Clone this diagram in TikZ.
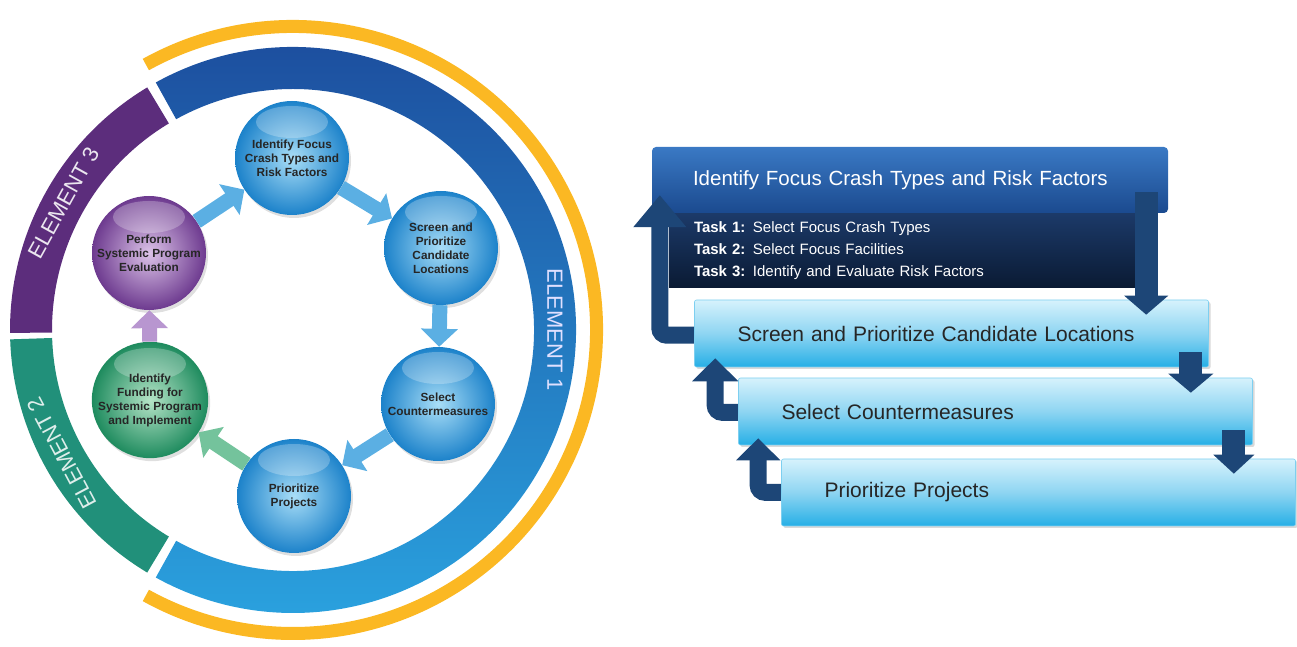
\documentclass[tikz,border=0pt]{standalone}
\usepackage{fontspec}
\setmainfont{Liberation Sans}
\usetikzlibrary{arrows.meta,calc,shadows}

\definecolor{ringtop}{HTML}{1C4A9B}
\definecolor{ringbot}{HTML}{2AA2DF}
\definecolor{ringpurple}{HTML}{5C2D7C}
\definecolor{ringgreen}{HTML}{21907A}
\definecolor{ringgold}{HTML}{FBB823}
\definecolor{ballblue}{HTML}{1C82CA}
\definecolor{balllight}{HTML}{A9DEF7}
\definecolor{ballpurple}{HTML}{6D3A8F}
\definecolor{balllilac}{HTML}{DCC3E8}
\definecolor{ballgreen}{HTML}{1E8B5E}
\definecolor{ballmint}{HTML}{B5E4C7}
\definecolor{cycblue}{HTML}{5BAFE3}
\definecolor{cycgreen}{HTML}{74C39C}
\definecolor{cycpurple}{HTML}{B896D0}
\definecolor{headtop}{HTML}{3A79C4}
\definecolor{headbot}{HTML}{1B4A8F}
\definecolor{tasktop}{HTML}{1C3A69}
\definecolor{taskbot}{HTML}{0A1A33}
\definecolor{steptop}{HTML}{D6F2FC}
\definecolor{stepmid}{HTML}{8ED5F2}
\definecolor{stepbot}{HTML}{26AFE6}
\definecolor{arrownavy}{HTML}{1D4677}

\begin{document}
\begin{tikzpicture}[x=1pt, y=1pt,
  ball/.style={circle, minimum size=114pt, inner sep=0pt, align=center,
    font=\fontsize{11.8}{14}\selectfont\bfseries, text=black!85,
    drop shadow={opacity=0.25, shadow xshift=2pt, shadow yshift=-3pt},
    path picture={\fill[white, opacity=0.25] ([yshift=36pt]path picture bounding box.center) ellipse [x radius=36pt, y radius=16pt];}},
  blueball/.style={ball, inner color=balllight, outer color=ballblue},
  purpleball/.style={ball, inner color=balllilac, outer color=ballpurple},
  greenball/.style={ball, inner color=ballmint, outer color=ballgreen},
  cycarrow/.style={line width=15pt, -{Triangle[width=36pt, length=18pt]}},
  elemtext/.style={font=\fontsize{22}{22}\selectfont},
  headbox/.style={rectangle, rounded corners=4pt, text width=434pt, inner xsep=41pt, minimum height=66pt, align=left,
    top color=headtop, bottom color=headbot, text=white, font=\fontsize{20.5}{24}\selectfont},
  taskbox/.style={rectangle, text width=416pt, inner xsep=25pt, minimum height=75pt, align=left,
    top color=tasktop, bottom color=taskbot, text=white, font=\fontsize{15}{22}\selectfont},
  stepbox/.style={rectangle, rounded corners=2pt, text width=428pt, inner xsep=43pt, minimum height=67pt, align=left,
    top color=steptop, bottom color=stepbot, middle color=stepmid, draw=stepbot!60, line width=0.6pt,
    font=\fontsize{21}{24}\selectfont, text=black!85,
    drop shadow={opacity=0.3, shadow xshift=2pt, shadow yshift=-2pt}},
  uparrow/.style={draw=arrownavy, line width=17pt, rounded corners=7pt},
  downarrow/.style={draw=arrownavy, line width=23pt},
]
\useasboundingbox (0,0) rectangle (1297,647);
\coordinate (hub) at (293,317);

% outer rings
\draw [ringgold, line width=13pt] ([shift={(119:303.5)}]hub) arc [start angle=119, end angle=-119, radius=303.5];
\shade [top color=ringtop, bottom color=ringbot] ([shift={(119:283)}]hub) arc [start angle=119, end angle=-119, radius=283]
  -- ([shift={(-119:241)}]hub) arc [start angle=-119, end angle=119, radius=241] -- cycle;
\fill [ringpurple] ([shift={(121:283)}]hub) arc [start angle=121, end angle=180.6, radius=283]
  -- ([shift={(180.6:241)}]hub) arc [start angle=180.6, end angle=121, radius=241] -- cycle;
\fill [ringgreen] ([shift={(181.9:283)}]hub) arc [start angle=181.9, end angle=239, radius=283]
  -- ([shift={(239:241)}]hub) arc [start angle=239, end angle=181.9, radius=241] -- cycle;
%
\node [elemtext, text=blue!12, rotate=-90] (eone) at ([shift={(0:262)}]hub) {ELEMENT 1};
\node [elemtext, text=ringgreen!15, rotate=118] (etwo) at ([shift={(208:262)}]hub) {ELEMENT 2};
\node [elemtext, text=ringpurple!12, rotate=61] (ethree) at ([shift={(151:262)}]hub) {ELEMENT 3};

% process cycle
\node [blueball] (focus) at (292,489) {Identify Focus\\Crash Types and\\Risk Factors};
\node [blueball] (screenc) at (441,399) {Screen and\\Prioritize\\Candidate\\Locations};
\node [blueball] (selectc) at (438,243) {Select\\Countermeasures};
\node [blueball] (priorc) at (294,151) {Prioritize\\Projects};
\node [greenball] (funding) at (150,247) {Identify\\Funding for\\Systemic Program\\and Implement};
\node [purpleball] (evaluate) at (149,394) {Perform\\Systemic Program\\Evaluation};
%
\draw [cycarrow, cycblue] (focus) -- (screenc);
\draw [cycarrow, cycblue] (screenc) -- (selectc);
\draw [cycarrow, cycblue] (selectc) -- (priorc);
\draw [cycarrow, cycgreen] (priorc) -- (funding);
\draw [cycarrow, cycpurple] (funding) -- (evaluate);
\draw [cycarrow, cycblue] (evaluate) -- (focus);

% step list
\node [taskbox] (tasks) at (902,396.5) {\textbf{Task 1:} Select Focus Crash Types\\\textbf{Task 2:} Select Focus Facilities\\\textbf{Task 3:} Identify and Evaluate Risk Factors};
\node [headbox] (head) at (910,467) {Identify Focus Crash Types and Risk Factors};
\draw [uparrow, -{Triangle[width=51pt, length=32pt]}] ($(head.south west)+(50,-122)$) -| ($(head.south west)+(8,18)$);
\node [stepbox] (screen) at (951.5,313.5) {Screen and Prioritize Candidate Locations};
\draw [uparrow, -{Triangle[width=45pt, length=23pt]}] ($(screen.south west)+(50,-45)$) -| ($(screen.south west)+(21,9)$);
\node [stepbox] (select) at (995.5,235.5) {Select Countermeasures};
\draw [uparrow, -{Triangle[width=43pt, length=22pt]}] ($(select.south west)+(50,-47)$) -| ($(select.south west)+(20,7)$);
\node [stepbox] (prior) at (1038.5,154.5) {Prioritize Projects};
%
\draw [downarrow, -{Triangle[width=43pt, length=19pt]}] ($(head.south east)+(-22,21)$) -- ($(head.south east |- screen.north)+(-22,-15)$);
\draw [downarrow, -{Triangle[width=44pt, length=19pt]}] ($(screen.south east)+(-18,15)$) -- ($(screen.south east |- select.north)+(-18,-15)$);
\draw [downarrow, -{Triangle[width=40pt, length=19pt]}] ($(select.south east)+(-19,15)$) -- ($(select.south east |- prior.north)+(-19,-15)$);
\end{tikzpicture}
\end{document}
